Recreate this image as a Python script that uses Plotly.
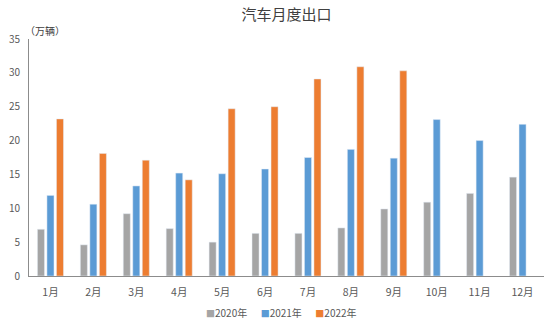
import plotly.graph_objects as go

months = ["1月", "2月", "3月", "4月", "5月", "6月", "7月", "8月", "9月", "10月", "11月", "12月"]
v2020 = [6.9, 4.6, 9.2, 7.0, 5.0, 6.3, 6.3, 7.1, 9.9, 10.9, 12.2, 14.6]
v2021 = [11.9, 10.6, 13.3, 15.2, 15.1, 15.8, 17.5, 18.7, 17.4, 23.1, 20.0, 22.4]
v2022 = [23.2, 18.1, 17.1, 14.2, 24.7, 25.0, 29.1, 30.9, 30.3, None, None, None]
yticks = [0, 5, 10, 15, 20, 25, 30, 35]
series = [("2020年", v2020, "#A5A5A5"), ("2021年", v2021, "#5B9BD5"), ("2022年", v2022, "#ED7D31")]

font_main = "Noto Sans CJK SC, Open Sans, sans-serif"

fig = go.Figure()
for name, vals, color in series:
    fig.add_trace(go.Bar(x=months, y=vals, name=name, marker_color=color))

legend_text = "&nbsp;&nbsp;&nbsp;&nbsp;&nbsp;&nbsp;".join(
    f'<span style="color:{c};font-size:9px">■</span>{n}' for n, _, c in series
)

fig.update_layout(
    width=550, height=322,
    margin=dict(l=29, r=6, t=39, b=46, autoexpand=False),
    paper_bgcolor="white", plot_bgcolor="white",
    barmode="group", bargap=0.335, bargroupgap=0.26,
    title=dict(text="汽车月度出口", x=0.5, xref="paper", xanchor="center",
               y=1 - 15 / 322, yanchor="middle",
               font=dict(family="Noto Sans CJK SC, serif", size=15, color="#404040")),
    font=dict(family=font_main, size=10, color="#595959"),
    showlegend=False,
    xaxis=dict(showline=True, linecolor="#8C8C8C", linewidth=1, ticks="",
               showgrid=False, ticklabelstandoff=6,
               tickfont=dict(size=10.5, color="#595959")),
    yaxis=dict(range=[0, 35], tickvals=yticks, showline=True, linecolor="#8C8C8C",
               linewidth=1, showgrid=False, zeroline=False, ticks="",
               ticklabelstandoff=6,
               tickfont=dict(size=10, color="#595959")),
    annotations=[
        dict(text="（万辆）", x=-0.012, xref="paper", xanchor="left",
             y=1 + 8 / 237, yref="paper", yanchor="middle", showarrow=False,
             font=dict(size=10, color="#404040")),
        dict(text=legend_text, x=(281 - 29) / 515, xref="paper", xanchor="center",
             y=-36 / 237, yref="paper", yanchor="middle", showarrow=False,
             font=dict(size=10, color="#595959")),
    ],
)

fig.write_html("out.html")
